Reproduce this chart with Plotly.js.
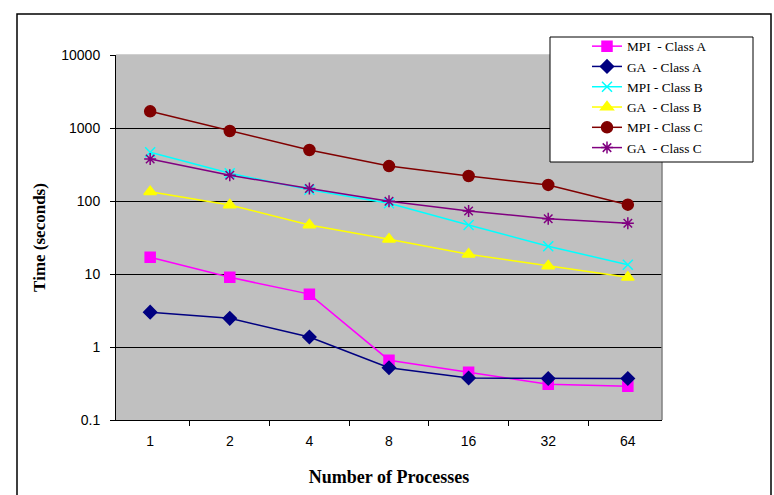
<!DOCTYPE html>
<html>
<head>
<meta charset="utf-8">
<script src="https://cdn.plot.ly/plotly-3.0.1.min.js"></script>
<style>html,body{margin:0;padding:0;background:#fff;}#chart{width:774px;height:495px;}</style>
</head>
<body>
<div id="chart"></div>
<script>
var processes = ['1', '2', '4', '8', '16', '32', '64'];
var mpiClassA = [17, 9.0, 5.3, 0.66, 0.45, 0.31, 0.29];
var gaClassA  = [3.0, 2.47, 1.37, 0.52, 0.376, 0.37, 0.37];
var mpiClassB = [465, 240, 143, 93, 47, 24, 13.4];
var gaClassB  = [134, 88, 47, 30, 18.6, 12.9, 9.0];
var mpiClassC = [1693, 910, 500, 301, 220, 166, 89];
var gaClassC  = [376, 225, 148, 99, 73, 57, 49.5];
var seriesNames = ['MPI\u00a0\u00a0- Class A', 'GA\u00a0\u00a0- Class A', 'MPI - Class B', 'GA\u00a0\u00a0- Class B', 'MPI - Class C', 'GA\u00a0\u00a0- Class C'];
var yTickVals = [0.1, 1, 10, 100, 1000, 10000];
var yTickText = ['0.1', '1', '10', '100', '1000', '10000'];

function tr(y, name, color, symbol, size) {
  return {
    x: processes, y: y, name: name, type: 'scatter', mode: 'lines+markers',
    line: {color: color, width: 1.5},
    marker: {symbol: symbol, size: size, color: color, line: {color: color, width: 1.5}}
  };
}
var data = [
  tr(mpiClassA, seriesNames[0], '#FF00FF', 'square', 10),
  tr(gaClassA, seriesNames[1], '#000080', 'diamond', 10),
  tr(mpiClassB, seriesNames[2], '#00FFFF', 'x-thin-open', 10),
  tr(gaClassB, seriesNames[3], '#FFFF00', 'triangle-up', 11),
  tr(mpiClassC, seriesNames[4], '#800000', 'circle', 11),
  tr(gaClassC, seriesNames[5], '#800080', 'asterisk-open', 10)
];

var L = 116, R = 662, T = 55, B = 420;
function px(v) { return (v - L) / (R - L); }
function py(v) { return (B - v) / (B - T); }

var layout = {
  width: 774, height: 495,
  margin: {l: L, r: 774 - R, t: T, b: 495 - B, pad: 0},
  paper_bgcolor: '#FFFFFF',
  plot_bgcolor: '#C0C0C0',
  showlegend: true,
  legend: {
    x: px(587), y: py(31), xanchor: 'left', yanchor: 'top',
    bgcolor: 'rgba(0,0,0,0)', borderwidth: 0,
    font: {family: 'Liberation Serif, Times New Roman, serif', size: 13.3, color: '#000'},
    tracegroupgap: 0
  },
  xaxis: {
    type: 'category', tickson: 'boundaries',
    ticks: 'outside', ticklen: 5, tickcolor: '#000', tickwidth: 1,
    showline: true, linecolor: '#000', linewidth: 1,
    showgrid: false, zeroline: false,
    ticklabelstandoff: 8,
    tickfont: {family: 'Liberation Sans, Arial, sans-serif', size: 14, color: '#000'},
    title: {text: 'Number of Processes', standoff: 22,
      font: {family: 'Liberation Serif, Times New Roman, serif', size: 18, color: '#000', weight: 'bold'}}
  },
  yaxis: {
    type: 'log', range: [-1, 4],
    tickvals: yTickVals, ticktext: yTickText,
    ticks: 'outside', ticklen: 5, tickcolor: '#000', tickwidth: 1,
    showline: true, linecolor: '#000', linewidth: 1,
    showgrid: true, gridcolor: '#000', gridwidth: 1, zeroline: false,
    ticklabelstandoff: 7,
    tickfont: {family: 'Liberation Sans, Arial, sans-serif', size: 14, color: '#000'},
    title: {text: 'Time (seconds)', standoff: 11,
      font: {family: 'Liberation Serif, Times New Roman, serif', size: 17, color: '#000', weight: 'bold'}}
  },
  shapes: [
    {type: 'line', xref: 'paper', yref: 'paper', x0: 1, x1: 1, y0: 0, y1: 1,
      line: {color: '#808080', width: 1.5}, layer: 'above'},
    {type: 'line', xref: 'paper', yref: 'paper', x0: 0, x1: 1, y0: 1, y1: 1,
      line: {color: '#C0C0C0', width: 1.5}, layer: 'above'},
    {type: 'rect', xref: 'paper', yref: 'paper', x0: px(550), x1: px(753), y0: py(162), y1: py(37),
      fillcolor: '#FFFFFF', line: {color: '#000', width: 1}, layer: 'above'},
    {type: 'rect', xref: 'paper', yref: 'paper', x0: px(17), x1: px(771), y0: py(505), y1: py(14),
      fillcolor: 'rgba(0,0,0,0)', line: {color: '#000', width: 1.5}, layer: 'above'}
  ]
};

Plotly.newPlot('chart', data, layout, {displayModeBar: false, staticPlot: true});
</script>
</body>
</html>
